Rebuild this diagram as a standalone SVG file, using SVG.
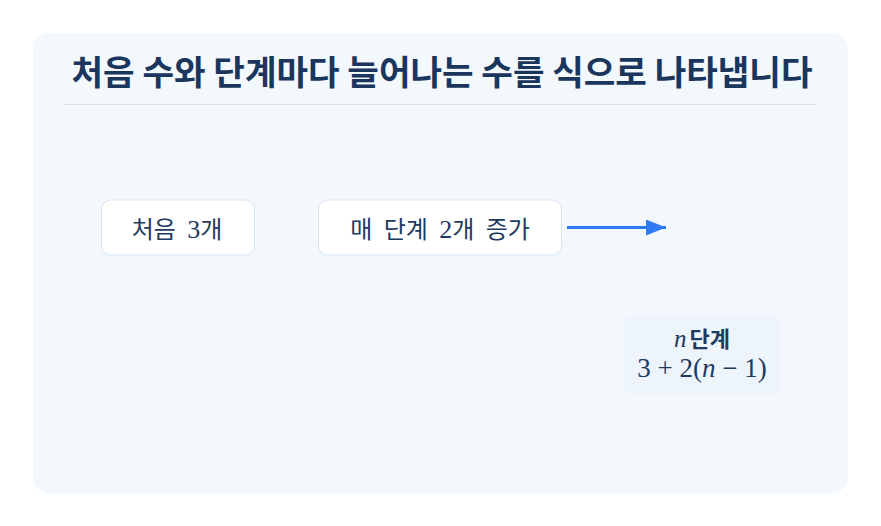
<svg xmlns="http://www.w3.org/2000/svg" width="881" height="526" viewBox="0 0 881 526">
<defs>
<style>
.panel{fill:#f3f8fd}
.title{font-family:"Noto Sans CJK KR","Noto Sans",sans-serif;font-weight:700;font-size:34.3px;fill:#1b365d}
.box{fill:#ffffff;stroke:#d9e4f1;stroke-width:1}
.lbl{font-family:"Noto Sans CJK KR","Noto Sans",sans-serif;font-size:24px;fill:#1e3a5f;word-spacing:6px}
.num{font-family:"Liberation Serif","DejaVu Serif",serif;font-size:26px}
.math{font-family:"Liberation Serif","DejaVu Serif",serif;font-size:27px;fill:#1e3a5f}
.it{font-style:italic}
.bold{font-family:"Noto Sans CJK KR",sans-serif;font-weight:700;font-size:22px}
.conn{stroke:#2f7bf5;stroke-width:3;fill:none}
</style>
<marker id="ah" markerUnits="userSpaceOnUse" markerWidth="22" markerHeight="16" refX="20" refY="8" orient="auto">
<path d="M0,0 L20,8 L0,16 Z" fill="#2f7bf5"/>
</marker>
</defs>
<rect width="881" height="526" fill="#ffffff"/>
<rect class="panel" x="33" y="33" width="815" height="460" rx="16"/>
<g id="title">
<text class="title" x="442" y="85" text-anchor="middle">처음 수와 단계마다 늘어나는 수를 식으로 나타냅니다</text>
<line x1="64" y1="104.5" x2="816" y2="104.5" stroke="#d8e3ee" stroke-width="1"/>
</g>
<g id="node-start">
<rect class="box" x="101.5" y="200" width="153" height="55" rx="9"/>
<text class="lbl" x="177" y="238" text-anchor="middle">처음 <tspan class="num">3</tspan>개</text>
</g>
<g id="node-step">
<rect class="box" x="318.5" y="200" width="243" height="55" rx="9"/>
<text class="lbl" x="440" y="238" text-anchor="middle">매 단계 <tspan class="num">2</tspan>개 증가</text>
</g>
<g id="connectors">
<line class="conn" x1="567" y1="227.5" x2="666" y2="227.5" marker-end="url(#ah)"/>
</g>
<g id="node-formula">
<rect x="623" y="315" width="158" height="79" rx="10" fill="#eef4fc"/>
<text class="math" x="702" y="347" text-anchor="middle"><tspan class="it" font-size="25">n</tspan><tspan class="bold" dx="3">단계</tspan></text>
<text class="math" x="702" y="377" text-anchor="middle">3 + 2(<tspan class="it">n</tspan> − 1)</text>
</g>
</svg>
